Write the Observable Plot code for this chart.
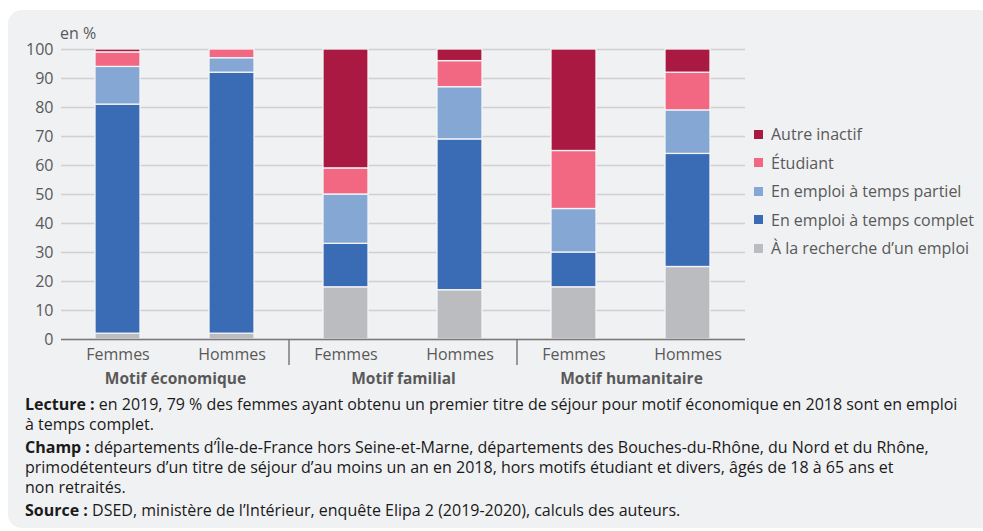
<!DOCTYPE html>
<html>
<head>
<meta charset="utf-8">
<script src="https://cdn.jsdelivr.net/npm/d3@7"></script>
<script src="https://cdn.jsdelivr.net/npm/@observablehq/plot@0.6"></script>
<style>
  html, body { margin: 0; padding: 0; background: #fff; }
  body { width: 983px; height: 531px; position: relative; overflow: hidden; font-family: "Open Sans", sans-serif; }
  #panel { position: absolute; left: 8px; top: 10px; width: 985px; height: 518px; background: #f0f1f3; border-radius: 14px; }
  #chart { position: absolute; left: 0; top: 0; }
  #unit { position: absolute; left: 60px; top: 22px; font-size: 16px; color: #595959; }
  #legend { position: absolute; left: 754px; top: 120px; font-size: 16px; color: #595959; }
  #legend .item { height: 28.5px; display: flex; align-items: center; white-space: nowrap; }
  #legend .sw { width: 9px; height: 9px; margin-right: 8px; flex: none; }
  #notes { position: absolute; left: 25px; top: 394px; font-size: 16px; line-height: 20px; color: #1a1a1a; white-space: nowrap; }
  #notes p { margin: 0 0 3px 0; }
</style>
</head>
<body>
<div id="panel"></div>
<div id="chart"></div>
<div id="unit">en %</div>
<div id="legend"></div>
<div id="notes">
  <p><b>Lecture :</b> en 2019, 79 % des femmes ayant obtenu un premier titre de séjour pour motif économique en 2018 sont en emploi<br>à temps complet.</p>
  <p><b>Champ :</b> départements d’Île-de-France hors Seine-et-Marne, départements des Bouches-du-Rhône, du Nord et du Rhône,<br>primodétenteurs d’un titre de séjour d’au moins un an en 2018, hors motifs étudiant et divers, âgés de 18 à 65 ans et<br>non retraités.</p>
  <p><b>Source :</b> DSED, ministère de l’Intérieur, enquête Elipa 2 (2019-2020), calculs des auteurs.</p>
</div>
<script>
// ---- data ----
const motifs = ["Motif économique", "Motif familial", "Motif humanitaire"];
const sexes = ["Femmes", "Hommes"];
const situations = ["À la recherche d’un emploi", "En emploi à temps complet", "En emploi à temps partiel", "Étudiant", "Autre inactif"];
const colors = ["#bbbcbf", "#3a6cb5", "#85a7d3", "#f26883", "#a91942"];
// values per bar, order: motif x sexe, each in situations order
const recherche = [2, 2, 18, 17, 18, 25];
const complet   = [79, 90, 15, 52, 12, 39];
const partiel   = [13, 5, 17, 18, 15, 15];
const etudiant  = [5, 3, 9, 9, 20, 13];
const inactif   = [1, 0, 41, 4, 35, 8];
const yTicks = [0, 10, 20, 30, 40, 50, 60, 70, 80, 90, 100];

const series = [recherche, complet, partiel, etudiant, inactif];
const rows = [];
motifs.forEach((m, mi) => sexes.forEach((s, si) => {
  const k = mi * 2 + si;
  situations.forEach((sit, j) => rows.push({motif: m, sexe: s, situation: sit, value: series[j][k]}));
}));

const textColor = "#595959";
const plot = Plot.plot({
  width: 760,
  height: 395,
  marginLeft: 60,
  marginRight: 15,
  marginTop: 49,
  marginBottom: 56,
  style: {fontFamily: "Open Sans, sans-serif", fontSize: "16px", color: textColor, background: "transparent", overflow: "visible"},
  fx: {domain: motifs, padding: 0},
  x: {domain: sexes, paddingInner: 0.605, paddingOuter: 0.3025},
  y: {domain: [0, 100]},
  color: {domain: situations, range: colors},
  marks: [
    Plot.gridY(yTicks, {stroke: "#cfd0d3", strokeOpacity: 1, strokeWidth: 1.5}),
    Plot.barY(rows, Plot.stackY({order: situations}, {fx: "motif", x: "sexe", y: "value", fill: "situation", stroke: "#f4f4f6", strokeWidth: 1.3})),
    Plot.ruleY([0], {stroke: "#7a7a7a", strokeWidth: 1.5}),
    Plot.axisY(yTicks, {tickSize: 0, tickPadding: 8, label: null, fill: textColor, fontSize: 16}),
    Plot.axisX({tickSize: 0, tickPadding: 9, label: null, fill: textColor, fontSize: 16}),
    Plot.axisFx({anchor: "bottom", tickSize: 0, tickPadding: 33, label: null, fill: textColor, fontSize: 15.5, fontWeight: "bold"})
  ]
});
document.getElementById("chart").appendChild(plot);

// group separators at facet boundaries, from the fx scale
const fx = plot.scale("fx");
const ys = plot.scale("y");
const svg = d3.select(plot);
motifs.slice(1).forEach(m => {
  const xb = fx.apply(m);
  svg.append("line")
    .attr("x1", xb).attr("x2", xb)
    .attr("y1", ys.apply(0)).attr("y2", ys.apply(0) + 26)
    .attr("stroke", "#7a7a7a").attr("stroke-width", 1.5);
});

// legend (top = last stacked)
const legend = document.getElementById("legend");
situations.slice().reverse().forEach((s) => {
  const i = situations.indexOf(s);
  const d = document.createElement("div");
  d.className = "item";
  d.innerHTML = `<span class="sw" style="background:${colors[i]}"></span><span>${s}</span>`;
  legend.appendChild(d);
});
</script>
</body>
</html>
